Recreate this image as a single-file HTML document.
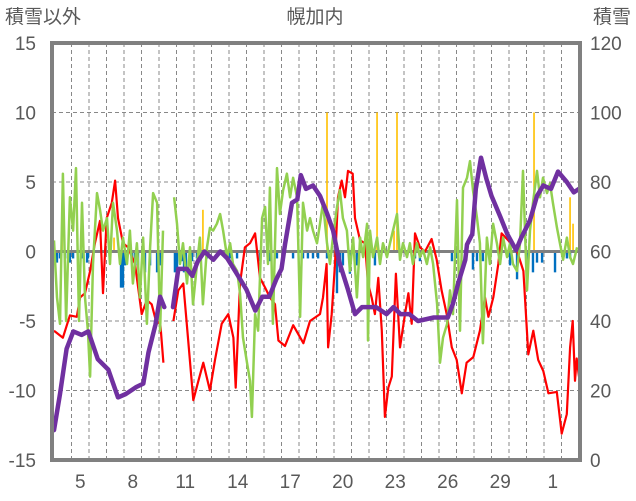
<!DOCTYPE html>
<html><head><meta charset="utf-8">
<style>
html,body{margin:0;padding:0;background:#fff;}
svg{display:block;}
text{font-family:"Liberation Sans","Noto Sans CJK JP",sans-serif;fill:#595959;}
</style></head>
<body>
<svg id="chart" width="636" height="501" viewBox="0 0 636 501" xmlns="http://www.w3.org/2000/svg">
<text x="5" y="23" font-size="19">積雪以外</text>
<text x="315" y="23" font-size="19" text-anchor="middle">幌加内</text>
<text x="631" y="23" font-size="19" text-anchor="end">積雪</text>
<g id="grid"></g>
<g id="bars"></g>
<g id="lines"></g>
<g id="axes"></g>
</svg>
<script>
const leftTicks=[15,10,5,0,-5,-10,-15];
const rightTicks=[120,100,80,60,40,20,0];
const xTickDays=[1,4,7,10,13,16,19,22,25,28];
const xTickLabels=["5","8","11","14","17","20","23","26","29","1"];

const redT=[0,.51,.91,1.3,1.49,1.77,2.06,2.34,2.63,2.8,3.01,3.3,3.49,3.66,3.94,4.23,4.63,5.01,5.3,5.58,5.87,6.06,6.25,6.5,6.82,7.1,7.39,7.67,7.96,8.25,8.53,8.91,9.2,9.58,9.96,10.25,10.38,10.63,10.91,11.2,11.49,11.77,12.06,12.34,12.63,12.82,13.2,13.67,14.25,14.63,15.2,15.37,15.58,15.66,15.87,16.06,16.23,16.44,16.63,16.8,17.07,17.2,17.49,17.77,17.94,18.15,18.34,18.53,18.73,18.91,19.1,19.3,19.54,19.77,20.06,20.25,20.44,20.63,20.91,21.2,21.58,21.87,22.15,22.44,22.73,23.01,23.3,23.58,23.96,24.34,24.63,24.82,25.1,25.39,25.58,25.96,26.44,26.82,27.1,27.39,27.67,27.96,28.25,28.73,29.01,29.3,29.49,29.64,29.77,29.87,30];
const redV=[-5.7,-6.2,-4.6,-4.7,-3.3,-3,-1.4,0.6,2.2,-3,2.4,3.5,5.1,2.4,0.6,0.3,-0.9,-4.5,-3.5,-3.8,-5.2,-5,-8,null,-5,-2.8,-2.3,-6.4,-10.7,-9.3,-8,-10,-7.8,-5.2,-4.5,-6.2,-9.8,-2.3,0.3,0.6,1.3,-1.9,-2.6,-3.3,-3.8,-6.4,-6.8,-5.3,-6.6,-5,-4.5,-3.3,-0.9,-6.9,-4.5,-0.9,3.9,5.1,3.9,5.8,5.6,2.4,0.8,0.6,-2.3,-3.3,-4.5,-1.9,-5.7,-11.9,-9.8,-9,-1.6,-6.9,-4.5,-3,-5.2,1.3,0.3,0,0.9,-0.6,-2.8,-4.5,-6.9,-7.8,-10.2,-8,-7.6,-5.7,-3.3,-4.7,-3.3,-0.9,1.3,0.8,0.1,-1.4,-7.4,-5.7,-7.8,-8.6,-10.2,-10.1,-13.1,-11.7,-6.9,-5,-9.3,-7.7,-9];

const greenT=[0,.17,.34,.51,.69,.91,1.09,1.26,1.43,1.6,1.77,1.94,2.06,2.23,2.46,2.63,2.8,3.03,3.2,3.37,3.6,3.77,3.94,4.17,4.34,4.51,4.74,4.91,5.09,5.31,5.49,5.66,5.89,6.06,6.23,6.5,6.86,7.03,7.2,7.37,7.6,7.77,7.94,8.17,8.34,8.51,8.74,8.91,9.09,9.31,9.49,9.66,9.89,10.06,10.23,10.46,10.63,10.8,11.03,11.2,11.31,11.49,11.66,11.89,12.06,12.23,12.34,12.51,12.74,12.91,13.09,13.31,13.49,13.66,13.89,14.06,14.23,14.46,14.63,14.8,15.03,15.2,15.37,15.6,15.77,15.94,16.17,16.34,16.51,16.74,16.91,17.09,17.31,17.49,17.66,17.89,17.94,18.06,18.23,18.46,18.63,18.8,19.03,19.2,19.37,19.6,19.77,19.94,20.17,20.34,20.51,20.74,20.91,21.09,21.31,21.49,21.66,21.89,22.06,22.23,22.46,22.63,22.8,23.03,23.2,23.37,23.6,23.77,23.94,24.17,24.34,24.51,24.74,24.91,25.09,25.31,25.49,25.66,25.89,26.06,26.23,26.46,26.63,26.8,27.03,27.2,27.37,27.6,27.77,27.94,28.17,28.34,28.51,28.74,28.91,29.09,29.31,29.49,29.66,29.89];
const greenV=[0.8,-3.3,-5.2,5.6,-5,3.9,1.5,6,-5,3.5,-3.3,-5.7,-9,-0.9,4.2,3,1.5,2.4,-0.9,3.5,1.5,-0.9,1,-0.9,1.5,-2.3,0.6,-3.3,1,-5.2,0.3,4.2,3.5,-5.7,1.5,null,3.9,2,-0.9,0.6,-2.3,0.3,-3.8,-0.9,1,-3.8,0.3,1.7,1.5,2,2.7,1.5,-0.4,0.6,-0.9,-1.4,-3,-6.2,-8,-9.3,-11.9,-4.5,-5.7,2.4,3.2,-0.9,4.6,-5.2,6,2.7,4.4,5.6,3.9,5.3,3.9,-4.7,3.5,1.5,2.4,1.5,0.6,2,3.5,0.6,-0.9,1,3.2,4.4,2.4,1.5,-1.4,1,-3.3,1,-0.4,2,-6.4,1.5,-0.4,1,-0.9,0.6,-0.4,0.6,1.5,2.7,-0.6,0.6,-0.4,0.6,-0.9,0.6,-0.4,0.1,-0.9,0.3,-0.9,-3.8,-8,-6.2,-5.2,-2.8,-4.5,3.7,-5.7,4.6,5.3,6.5,4.4,2.4,0.6,-6.6,1,-0.9,2,0.6,-0.9,1,-0.4,0.6,-0.9,-1.4,0.6,5.8,-2.8,1.5,3.5,5.8,3.9,5.3,4.2,4.9,3.5,1.7,0.6,-0.6,1,-0.4,-0.9,0.3];

const snowT=[0,.34,.72,1.1,1.58,1.96,2.5,3.1,3.66,4.1,4.7,5.1,5.4,5.8,6.06,6.3,6.5,6.8,7.1,7.6,7.9,8.2,8.6,9.1,9.5,9.9,10.4,11,11.5,11.9,12.3,12.7,13,13.2,13.6,13.9,14.1,14.4,14.8,15.2,15.6,15.95,16.3,16.8,17.2,17.6,18.4,19,19.4,19.8,20.3,20.8,21.7,22.5,22.8,23.1,23.5,23.6,23.9,24.1,24.4,24.7,25,25.5,25.9,26.4,26.7,27.2,27.6,27.96,28.4,28.8,29.3,29.7,30];
const snowV=[8.6,19,32,37,36,37,29,26,18,19,21,22,31,39,47,44,null,44,55,55,53,57,60,57.6,60,58,54,49,43,47,47,52,55,62,74,75,82,78,79,76,71,66,57,49,42,44,44,42,44,42,42,40,41,41,45,51,57.6,62,65,78,87,81,76,70,65,60.4,64,69,76,79,78,83,80,77,78];

const precipT=[0.17,0.34,0.63,0.91,1.09,1.6,1.89,1.94,3.83,3.94,4.06,4.46,4.63,4.8,5.2,5.49,5.89,6.06,6.91,7.03,7.31,7.43,7.54,7.89,8.17,8.74,10.06,10.46,11.77,12.34,12.74,13.66,14.23,14.51,14.8,15.09,15.6,16.17,16.34,16.51,16.91,17.31,18.34,20.63,20.91,22.74,23.03,23.94,24.17,24.51,26.06,26.46,27.03,27.37,27.6,27.89,28.63,29.09,29.31,29.49];
const precipV=[-0.8,-0.5,-0.5,-0.8,-0.5,-0.5,-0.8,-0.5,-2.6,-2.6,-1,-0.8,-1,-1,-1.5,-1,-1.5,-1,-1.5,-1.5,-0.7,-1.5,-1.5,-0.7,-0.5,-0.5,-0.5,-0.5,-0.7,-0.7,-0.5,-0.5,-0.5,-0.5,-0.5,-0.5,-0.5,-3,-1.5,-1,-1.6,-1,-1,-0.5,-0.7,-0.7,-0.5,-1.3,-0.7,-0.7,-1,-2,-0.8,-1.5,-0.8,-0.8,-1.5,-0.5,-0.5,-0.5];
const yellowT=[0.46,3.43,8.51,15.6,18.46,19.43,19.6,27.43,29.49,29.66];
const yellowV=[3,1,3,10,10,1.5,10,10,3.9,2];

const NS="http://www.w3.org/2000/svg";
const X0=54,DAYW=17.5,PT=43,PB=460,PL=52,PR=580;
function xs(t){return X0+t*DAYW;}
function yl(v){return PB-(v+15)/30*(PB-PT);}
function yr(v){return PB-v/120*(PB-PT);}
function mk(tag,attrs,parent){const e=document.createElementNS(NS,tag);for(const k in attrs)e.setAttribute(k,attrs[k]);parent.appendChild(e);return e;}
const grid=document.getElementById('grid'),bars=document.getElementById('bars'),lines=document.getElementById('lines'),axes=document.getElementById('axes');

for(const v of leftTicks){
  if(v===15||v===-15||v===0)continue;
  const l=mk('line',{x1:PL,x2:PR,y1:yl(v),y2:yl(v),stroke:'#888',"stroke-width":1,"stroke-dasharray":"4,3"},grid);
  
  
}
for(let d=1;d<30;d++){
  const l=mk('line',{x1:xs(d),x2:xs(d),y1:PT,y2:PB,stroke:'#888',"stroke-width":1,"stroke-dasharray":"4,3"},grid);
  
  
}
const zl=mk('line',{x1:PL,x2:PR,y1:yl(0),y2:yl(0),stroke:'#808080',"stroke-width":3},grid);



for(let i=0;i<precipT.length;i++){
  const y0=yl(0)+1.5,y1=yl(precipV[i]);
  const r=mk('rect',{x:xs(precipT[i])-1.2,y:y0,width:2.4,height:Math.max(0,y1-y0),fill:'#0070c0'},bars);
  
  
}
for(let i=0;i<yellowT.length;i++){
  const y0=yl(yellowV[i]),y1=yl(0)-1.5;
  const r=mk('rect',{x:xs(yellowT[i])-0.8,y:y0,width:1.6,height:Math.max(0,y1-y0),fill:'#ffc000'},bars);
  
  
}
function pathFor(T,V,yf){let d='',pen=false;for(let i=0;i<T.length;i++){if(V[i]===null){pen=false;continue;}d+=(pen?'L':'M')+xs(T[i]).toFixed(1)+','+yf(V[i]).toFixed(1);pen=true;}return d;}
const red=mk('path',{d:pathFor(redT,redV,yl),fill:'none',stroke:'#ff0000',"stroke-width":2.2,"stroke-linejoin":"round"},lines);


const green=mk('path',{d:pathFor(greenT,greenV,yl),fill:'none',stroke:'#92d050',"stroke-width":2.5,"stroke-linejoin":"round"},lines);


const snow=mk('path',{d:pathFor(snowT,snowV,yr),fill:'none',stroke:'#7030a0',"stroke-width":4.5,"stroke-linejoin":"round","stroke-linecap":"round"},lines);



const fr=mk('rect',{x:PL,y:PT,width:PR-PL,height:PB-PT,fill:'none',stroke:'#808080',"stroke-width":4},axes);


for(const v of leftTicks){
  const t=mk('text',{x:36,y:yl(v)+7,"font-size":19,"text-anchor":"end"},axes);t.textContent=v;
  
  
}
for(const v of rightTicks){
  const t=mk('text',{x:590,y:yr(v)+7,"font-size":19},axes);t.textContent=v;
  
  
}
for(let i=0;i<xTickDays.length;i++){
  const t=mk('text',{x:xs(xTickDays[i]+0.5),y:488,"font-size":19,"text-anchor":"middle"},axes);t.textContent=xTickLabels[i];
  
  
}
</script>
</body></html>
